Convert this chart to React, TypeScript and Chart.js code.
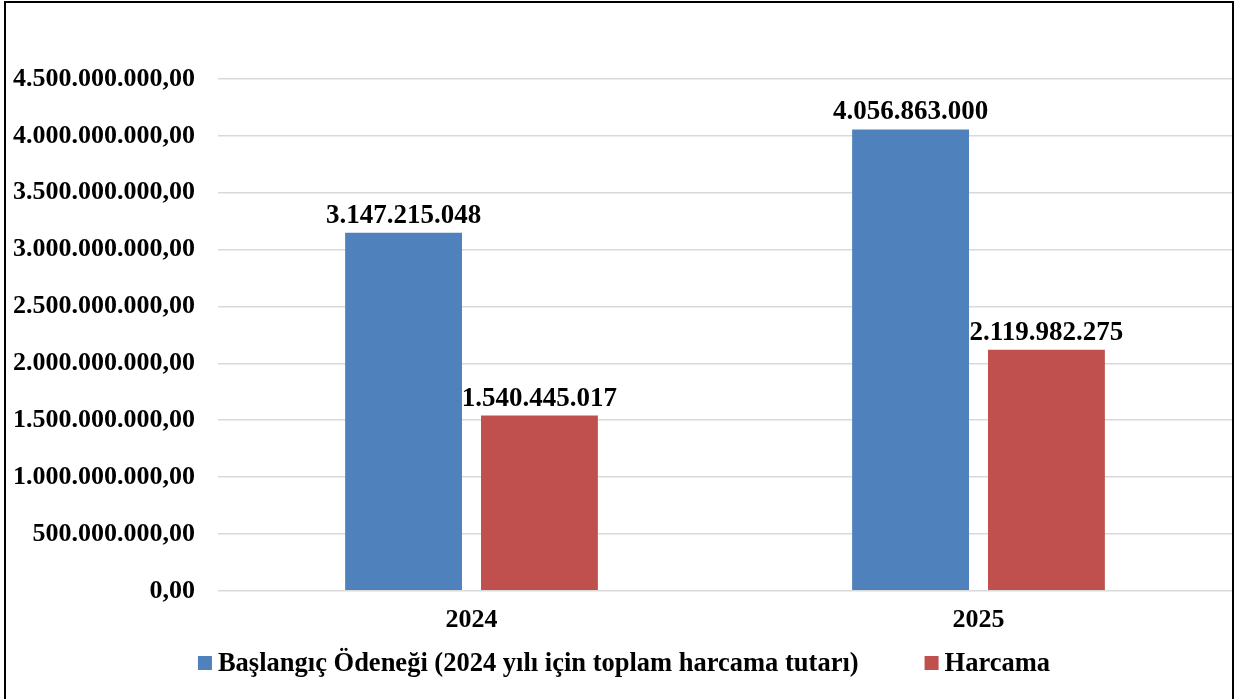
import React, { useEffect, useRef } from "react";
import { Chart, registerables } from "chart.js";

Chart.register(...registerables);

const categories = ["2024", "2025"];
const baslangicValues = [3147215048, 4056863000];
const harcamaValues = [1540445017, 2119982275];
const seriesLabels = [
  "Başlangıç Ödeneği (2024 yılı için toplam harcama tutarı)",
  "Harcama",
];
const seriesColors = ["#4F81BD", "#C0504D"];
const yMax = 4500000000;
const yStep = 500000000;

const FONT = '"Liberation Serif", "Times New Roman", serif';

function groupThousands(n: number): string {
  const s = Math.round(Math.abs(n)).toString();
  return s.replace(/\B(?=(\d{3})+(?!\d))/g, ".");
}
function formatTick(v: number): string {
  return groupThousands(v) + ",00";
}

const dataLabelPlugin = {
  id: "dataLabels",
  afterDatasetsDraw(chart: any) {
    const ctx = chart.ctx;
    ctx.save();
    ctx.font = `bold 27px ${FONT}`;
    ctx.fillStyle = "#000";
    ctx.textAlign = "center";
    ctx.textBaseline = "alphabetic";
    chart.data.datasets.forEach((ds: any, di: number) => {
      const meta = chart.getDatasetMeta(di);
      meta.data.forEach((bar: any, i: number) => {
        ctx.fillText(groupThousands(ds.data[i]), bar.x, bar.y - 10);
      });
    });
    ctx.restore();
  },
};

const customLegendPlugin = {
  id: "customLegend",
  afterDraw(chart: any) {
    const ctx = chart.ctx;
    ctx.save();
    ctx.font = `bold 26.5px ${FONT}`;
    ctx.textBaseline = "middle";
    ctx.textAlign = "left";
    const box = 14;
    const gapText = 6;
    const gapItem = 66;
    const widths = chart.data.datasets.map((ds: any) => ctx.measureText(ds.label).width);
    let total = 0;
    widths.forEach((w: number, i: number) => {
      total += box + gapText + w + (i < widths.length - 1 ? gapItem : 0);
    });
    let x = chart.width / 2 + 3 - total / 2;
    const yc = 663;
    chart.data.datasets.forEach((ds: any, i: number) => {
      ctx.fillStyle = ds.backgroundColor;
      ctx.fillRect(x, yc - box / 2, box, box);
      x += box + gapText;
      ctx.fillStyle = "#000";
      ctx.fillText(ds.label, x, yc + 1);
      x += widths[i] + gapItem;
    });
    ctx.restore();
  },
};

export default function App() {
  const ref = useRef<HTMLCanvasElement | null>(null);
  useEffect(() => {
    if (!ref.current) return;
    const chart = new Chart(ref.current, {
      type: "bar",
      data: {
        labels: categories,
        datasets: [
          {
            label: seriesLabels[0],
            data: baslangicValues,
            backgroundColor: seriesColors[0],
            categoryPercentage: 0.536,
            barPercentage: 0.86,
          },
          {
            label: seriesLabels[1],
            data: harcamaValues,
            backgroundColor: seriesColors[1],
            categoryPercentage: 0.536,
            barPercentage: 0.86,
          },
        ],
      },
      options: {
        responsive: false,
        devicePixelRatio: 1,
        animation: false,
        layout: { padding: { left: 0, right: 10, top: 79, bottom: 49 } },
        plugins: {
          tooltip: { enabled: false },
          legend: { display: false },
        },
        scales: {
          x: {
            grid: { display: false, drawTicks: false, tickLength: 0 },
            border: { display: false },
            ticks: {
              color: "#000",
              font: { family: FONT, size: 26, weight: "bold" },
              padding: 14,
            },
          },
          y: {
            min: 0,
            max: yMax,
            afterFit(scale: any) {
              scale.width = 218;
            },
            grid: { color: "#d9d9d9", lineWidth: 1.5, drawTicks: false, tickLength: 0 },
            border: { display: false },
            ticks: {
              stepSize: yStep,
              color: "#000",
              font: { family: FONT, size: 26, weight: "bold" },
              padding: 23,
              callback: (v: any) => formatTick(Number(v)),
            },
          },
        },
      },
      plugins: [dataLabelPlugin, customLegendPlugin],
    });
    return () => chart.destroy();
  }, []);

  return (
    <div
      style={{
        position: "fixed",
        left: 0,
        top: 0,
        width: 1242,
        height: 699,
        overflow: "hidden",
        background: "#fff",
      }}
    >
      <div
        style={{
          position: "absolute",
          left: 4,
          top: 1,
          width: 1230,
          height: 760,
          border: "2px solid #000",
          boxSizing: "border-box",
        }}
      />
      <canvas
        ref={ref}
        width={1242}
        height={699}
        style={{ position: "absolute", left: 0, top: 0 }}
      />
    </div>
  );
}
